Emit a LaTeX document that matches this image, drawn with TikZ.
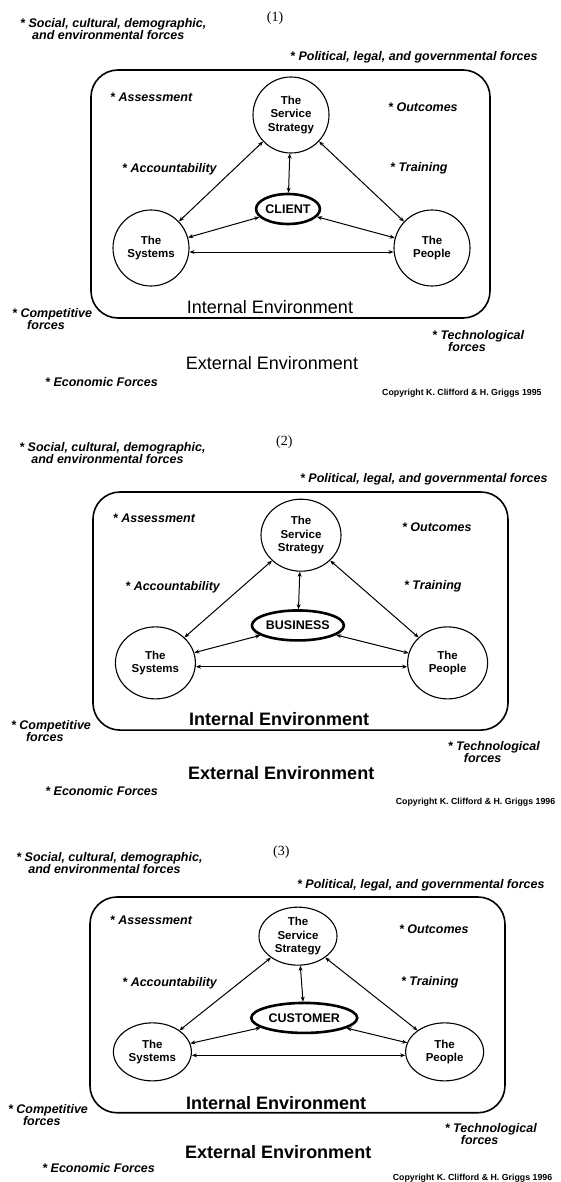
\documentclass[tikz,border=0pt]{standalone}
\usepackage{fontspec}
\setmainfont{Liberation Sans}
\newfontfamily\numfont{Liberation Serif}
\usetikzlibrary{arrows.meta,shapes.geometric}

% per-panel settings, redefined before each panel
\def\coretext{CLIENT}
\def\corew{62}
\def\corex{197}
\def\hubw{76}
\def\hubh{76}
\def\envweight{\mdseries}
\def\copyyear{1995}

\tikzset{
  force/.style={font=\fontsize{12.5}{12}\selectfont\bfseries\itshape, inner sep=0pt, align=left},
  hub/.style={draw, ellipse, line width=1.1pt, inner sep=0pt, align=center,
    minimum width=\hubw pt, minimum height=\hubh pt,
    font=\fontsize{11.5}{13.5}\selectfont\bfseries},
  core/.style={draw, ellipse, line width=2.6pt, inner sep=0pt,
    minimum width=\corew pt, minimum height=30pt,
    font=\fontsize{12.5}{14}\selectfont\bfseries},
  env/.style={inner sep=0pt, font=\fontsize{18}{20}\selectfont\envweight},
  note/.style={inner sep=0pt, font=\fontsize{8.8}{10}\selectfont\bfseries},
  num/.style={inner sep=0pt, font=\numfont\fontsize{14}{16}\selectfont},
  frame/.style={draw, line width=1.6pt, rounded corners=27pt},
  link/.style={{Stealth[length=5pt,width=4pt]}-{Stealth[length=5pt,width=4pt]}, line width=1pt},
}

% one service-triangle panel: #1 name prefix, #2,#3 origin, #4 xscale, #5 yscale, #6 number
\newcommand\diagpanel[6]{%
\begin{scope}[shift={(#2,#3)}, xscale=#4, yscale=#5]
  \node[num] (#1-num) at (184,-52) {(#6)};
  \node[force, anchor=north west] (#1-soc) at (-71,-52)
    {* Social, cultural, demographic,\\\hspace*{12pt}and environmental forces};
  \node[force, anchor=west] (#1-pol) at (199,-13) {* Political, legal, and governmental forces};
  \draw[frame] (0,0) rectangle (399,248);
  \node[force, anchor=west] (#1-asm) at (19,27) {* Assessment};
  \node[force, anchor=west] (#1-out) at (297,37) {* Outcomes};
  \node[force, anchor=west] (#1-acc) at (31,99) {* Accountability};
  \node[force, anchor=west] (#1-trn) at (299,98) {* Training};
  \node[hub] (#1-ss) at (200,45) {The\\Service\\Strategy};
  \node[core] (#1-core) at (\corex,139) {\coretext};
  \node[hub] (#1-sys) at (60,178) {The\\Systems};
  \node[hub] (#1-ppl) at (341,178) {The\\People};
  \node[env] (#1-int) at (179,237) {Internal Environment};
  \node[env] (#1-ext) at (181,293) {External Environment};
  \node[force, anchor=north west] (#1-cmp) at (-79,238) {* Competitive\\\hspace*{15pt}forces};
  \node[force, anchor=north west] (#1-tec) at (341,260) {* Technological\\\hspace*{16pt}forces};
  \node[force, anchor=west] (#1-eco) at (-46,312) {* Economic Forces};
  \node[note, anchor=west] (#1-cpy) at (291,323) {Copyright K. Clifford \& H. Griggs \copyyear};
  \draw[link] (#1-ss) -- (#1-sys);
  \draw[link] (#1-ss) -- (#1-ppl);
  \draw[link] (#1-ss) -- (#1-core);
  \draw[link] (#1-core) -- (#1-sys);
  \draw[link] (#1-core) -- (#1-ppl);
  \draw[link] ([yshift=-4pt]#1-sys.east) -- ([yshift=-4pt]#1-ppl.west);
\end{scope}}

\begin{document}
\begin{tikzpicture}[x=1pt, y=-1pt]
  \fill[white] (0,0) rectangle (560,1182);
  \useasboundingbox (0,0) rectangle (560,1182);

  \diagpanel{a}{91}{70}{1}{1}{1}

  \def\coretext{BUSINESS}\def\corew{92}\def\corex{197}
  \def\hubw{80}\def\hubh{72}\def\envweight{\bfseries}\def\copyyear{1996}
  \diagpanel{b}{93}{492}{1.04}{0.96}{2}

  \def\coretext{CUSTOMER}\def\corew{106}\def\corex{206}
  \def\hubw{78}\def\hubh{58}
  \diagpanel{c}{90}{897}{1.04}{0.87}{3}
\end{tikzpicture}
\end{document}
